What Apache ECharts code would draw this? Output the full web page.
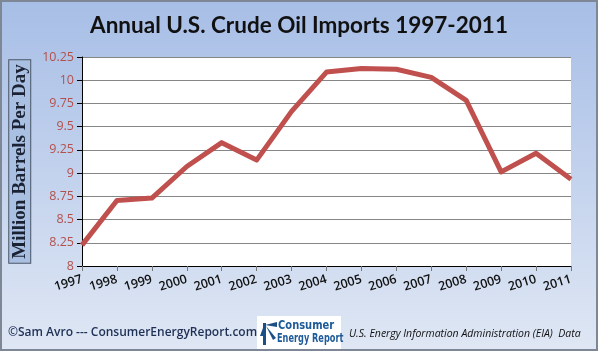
<!DOCTYPE html>
<html>
<head>
<meta charset="utf-8">
<script src="https://cdn.jsdelivr.net/npm/echarts@6/dist/echarts.min.js"></script>
<style>
  html, body { margin: 0; padding: 0; }
  #chart { width: 598px; height: 351px; }
</style>
</head>
<body>
<div id="chart"></div>
<script>
// annual imports, million barrels per day
const years = ['1997', '1998', '1999', '2000', '2001', '2002', '2003', '2004',
  '2005', '2006', '2007', '2008', '2009', '2010', '2011']
const imports = [8.225, 8.706, 8.731, 9.071, 9.328, 9.140, 9.665, 10.088,
  10.126, 10.118, 10.031, 9.783, 9.013, 9.213, 8.935]
const yMin = 8
const yMax = 10.25
const yStep = 0.25

const chart = echarts.init(document.getElementById('chart'))

const option = {
  animation: false,
  backgroundColor: {
    type: 'linear', x: 0, y: 0, x2: 0, y2: 1,
    colorStops: [
      { offset: 0, color: '#a7bee6' },
      { offset: 1, color: '#dfe7f4' },
    ],
  },
  title: {
    text: 'Annual U.S. Crude Oil Imports 1997-2011',
    left: 'center',
    top: 9,
    textStyle: {
      fontFamily: 'Lato',
      fontWeight: 'bold',
      fontSize: 22.5,
      color: '#111',
    },
  },
  grid: {
    left: 82,
    right: 27,
    top: 57,
    bottom: 85,
    show: true,
    backgroundColor: '#ffffff',
    borderWidth: 0,
  },
  xAxis: {
    type: 'category',
    data: years,
    boundaryGap: false,
    axisLine: { lineStyle: { color: '#000', width: 1 } },
    axisTick: { show: true, length: 5, interval: 0, lineStyle: { color: '#777' } },
    axisLabel: {
      interval: 0,
      rotate: 17,
      margin: 13,
      fontFamily: 'Open Sans',
      fontWeight: 600,
      fontSize: 12.5,
      color: '#111',
    },
    splitLine: { show: false },
  },
  yAxis: {
    type: 'value',
    min: yMin,
    max: yMax,
    interval: yStep,
    name: 'Million Barrels Per Day',
    nameLocation: 'middle',
    nameRotate: 90,
    nameGap: 49,
    nameTextStyle: {
      fontFamily: 'Liberation Serif',
      fontWeight: 'bold',
      fontSize: 19,
      color: '#1a2233',
      backgroundColor: '#a9c0e2',
      borderColor: '#4a5566',
      borderWidth: 1,
      padding: [1, 4, 1, 4],
    },
    axisLine: { show: true, lineStyle: { color: '#000', width: 1 } },
    axisTick: { show: true, length: 5, lineStyle: { color: '#000' } },
    axisLabel: {
      fontFamily: 'Open Sans',
      fontSize: 12.5,
      color: '#b3504c',
      margin: 8,
    },
    splitLine: { lineStyle: { color: '#868686', width: 1 } },
  },
  series: [
    {
      name: 'Imports',
      type: 'line',
      data: imports,
      symbol: 'none',
      lineStyle: { color: '#c0504d', width: 5, join: 'round' },
    },
  ],
  graphic: [
    {
      type: 'rect',
      shape: { x: 1, y: 1, width: 596, height: 349 },
      style: { fill: 'none', stroke: '#7d8796', lineWidth: 2 },
      silent: true,
    },
    {
      type: 'text',
      left: 8,
      top: 327,
      style: {
        text: '©Sam Avro --- ConsumerEnergyReport.com',
        font: '600 12px "Open Sans"',
        fill: '#1f2f55',
      },
    },
    {
      type: 'group',
      left: 257,
      top: 316,
      children: [
        { type: 'rect', shape: { x: 0, y: 0, width: 84, height: 33 }, style: { fill: '#ffffff' } },
        { type: 'rect', shape: { x: 6, y: 7, width: 3, height: 22 }, style: { fill: '#1d4f86' } },
        { type: 'polygon', shape: { points: [[8, 9], [20, 6], [20, 11]] }, style: { fill: '#1d4f86' } },
        { type: 'polygon', shape: { points: [[7, 9], [3, 20], [6, 20]] }, style: { fill: '#1d4f86' } },
        { type: 'polygon', shape: { points: [[9, 10], [19, 22], [16, 24]] }, style: { fill: '#1d4f86' } },
        {
          type: 'text', x: 21, y: 3, scaleX: 0.85,
          style: { text: 'Consumer', font: 'bold 13px "DejaVu Sans Condensed"', fill: '#1d5a99' },
        },
        {
          type: 'text', x: 20, y: 16, scaleX: 0.7,
          style: { text: 'Energy Report', font: 'bold 13px "DejaVu Sans Condensed"', fill: '#1d5a99' },
        },
      ],
    },
    {
      type: 'text',
      left: 349,
      top: 329,
      style: {
        text: 'U.S. Energy Information Administration (EIA)  Data',
        font: 'italic 10.5px "Open Sans"',
        fill: '#111',
      },
    },
  ],
}

chart.setOption(option)
</script>
</body>
</html>
